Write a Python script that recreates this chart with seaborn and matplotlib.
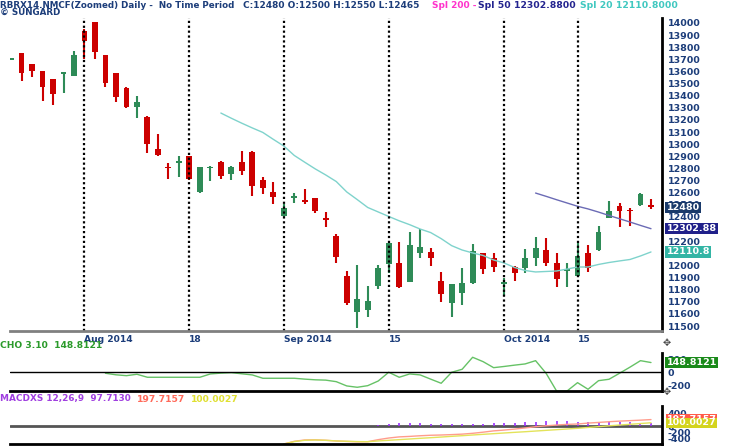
import numpy as np
import pandas as pd
import seaborn as sns
import matplotlib.pyplot as plt

# daily candles, one per trading day (index 0..61)
opens = [13695, 13750, 13662, 13604, 13538, 13578, 13563, 13934, 14005, 13736,
         13585, 13461, 13305, 13227, 12958, 12812, 12848, 12903, 12608, 12800,
         12856, 12754, 12856, 12938, 12705, 12608, 12408, 12555, 12540, 12559,
         12390, 12243, 11913, 11613, 11632, 11833, 12012, 12017, 11866, 12105,
         12108, 11872, 11688, 11775, 11853, 12103, 12059, 11850, 11990, 11981,
         12064, 12127, 12017, 11955, 11913, 12100, 12127, 12394, 12490, 12460,
         12498, 12500]
highs = [13710, 13755, 13665, 13606, 13540, 13598, 13771, 13948, 14008, 13738,
         13588, 13470, 13398, 13230, 13084, 12843, 12903, 12905, 12812, 12820,
         12858, 12820, 12944, 12945, 12727, 12690, 12507, 12600, 12628, 12560,
         12443, 12257, 11954, 12004, 11833, 12004, 12185, 12196, 12278, 12298,
         12141, 11948, 11846, 11981, 12177, 12105, 12100, 11899, 11992, 12133,
         12237, 12224, 12100, 12017, 12188, 12169, 12325, 12532, 12512, 12471,
         12595, 12550]
lows = [13695, 13525, 13552, 13360, 13320, 13420, 13560, 13700, 13700, 13475,
        13351, 13300, 13214, 12930, 12905, 12710, 12732, 12708, 12600, 12700,
        12715, 12705, 12746, 12575, 12589, 12504, 12397, 12517, 12507, 12435,
        12315, 12022, 11673, 11481, 11577, 11803, 11940, 11811, 11861, 12064,
        11998, 11701, 11572, 11674, 11850, 11929, 11948, 11750, 11872, 11935,
        11998, 11998, 11825, 11820, 11902, 11948, 12119, 12389, 12319, 12328,
        12490, 12465]
closes = [13705, 13590, 13604, 13475, 13412, 13590, 13736, 13854, 13758, 13503,
          13392, 13305, 13351, 12999, 12911, 12800, 12860, 12710, 12810, 12815,
          12738, 12810, 12782, 12658, 12636, 12562, 12471, 12570, 12525, 12451,
          12375, 12067, 11688, 11723, 11709, 11981, 12182, 11825, 12169, 12155,
          12059, 11764, 11844, 11853, 12119, 11970, 11990, 11865, 11935, 12059,
          12141, 12017, 11888, 11970, 12078, 11976, 12278, 12449, 12451, 12445,
          12589, 12480]

# Spl 20 from candle 20, Spl 50 from candle 50
sma20_start = 20
sma20 = [13257, 13214, 13173, 13134, 13097, 13040, 12985, 12907, 12851, 12796,
         12746, 12692, 12606, 12543, 12478, 12441, 12404, 12368, 12336, 12300,
         12271, 12221, 12163, 12127, 12103, 12082, 12045, 12020, 11983, 11958,
         11946, 11950, 11954, 11970, 11987, 11987, 12008, 12024, 12037, 12049,
         12078, 12111]
sma50_start = 50
sma50 = [12597, 12570, 12542, 12515, 12488, 12466, 12440, 12412, 12385, 12358,
         12330, 12303]

# CHO 3,10 from candle 9
cho_start = 9
cho = [-12, -35, -48, -27, -72, -72, -72, -72, -72, -72,
       -22, -10, -3, -20, -37, -87, -87, -87, -87, -100,
       -110, -115, -138, -202, -222, -198, -128, 3, -72, -22,
       -37, -100, -162, 3, 48, 228, 162, 72, 90, 110,
       128, 177, -12, -278, -278, -153, -252, -123, -102, -12,
       80, 177, 149]

# MACD 12,26,9 from candle 26
macd_start = 26
macd_line = [-554, -470, -430, -425, -440, -460, -475, -485, -483, -420,
             -370, -335, -320, -300, -285, -277, -265, -250, -225, -190,
             -150, -125, -95, -60, -22, 5, 30, 50, 62, 90,
             110, 132, 150, 165, 180, 198]
macd_signal = [-554, -480, -440, -431, -440, -460, -470, -480, -483, -460,
               -440, -420, -400, -379, -360, -340, -318, -298, -277, -256,
               -236, -215, -195, -176, -155, -134, -113, -92, -71, -45,
               -20, 5, 30, 52, 76, 100]
macd_hist = [0, 10, 10, 6, 0, 0, -5, -5, 0, 40,
             70, 85, 80, 79, 75, 63, 53, 48, 52, 66,
             86, 90, 100, 116, 133, 139, 143, 142, 133, 135,
             130, 127, 120, 113, 104, 98]

tick_idx = [7, 17, 26, 36, 47, 54]
tick_labels = ['Aug 2014', '18', 'Sep 2014', '15', 'Oct 2014', '15']
price_ticks = list(range(11500, 14001, 100))

NAVY = '#1c3d7a'
RED = '#cc0000'
GREEN = '#2e8b57'

sns.set_style('white')
plt.rcParams['font.family'] = ['DejaVu Sans']
plt.rcParams['font.weight'] = 'bold'
plt.rcParams['axes.unicode_minus'] = False

W, H = 739, 447
fig = plt.figure(figsize=(W / 100, H / 100), dpi=100)


def box(x0, y0, x1, y1):
    return [x0 / W, 1 - y1 / H, (x1 - x0) / W, (y1 - y0) / H]


ax = fig.add_axes(box(10, 18, 662, 331))
ax2 = fig.add_axes(box(10, 353, 662, 391))
ax3 = fig.add_axes(box(10, 406, 662, 444))

for a in (ax, ax2, ax3):
    a.set_xlim(-0.1, 62.05)
    a.spines['top'].set_visible(False)
    a.spines['left'].set_visible(False)
    a.spines['right'].set_linewidth(2)
    a.spines['right'].set_color('black')
    a.spines['bottom'].set_linewidth(2)
    a.spines['bottom'].set_color('black')
    a.yaxis.tick_right()
    a.tick_params(axis='y', length=0, pad=4, labelsize=6.8, labelcolor=NAVY)

# price panel
df = pd.DataFrame({'o': opens, 'h': highs, 'l': lows, 'c': closes})
df['x'] = np.arange(len(df))
up = df['c'] >= df['o']
cols = np.where(up, GREEN, RED)
ax.vlines(df['x'], df['l'], df['h'], color=cols, lw=1.5)
body = np.maximum((df['c'] - df['o']).abs(), 15)
ax.bar(df['x'], body, bottom=np.minimum(df['o'], df['c']), width=0.56, color=cols, lw=0)

sns.lineplot(x=np.arange(sma20_start, sma20_start + len(sma20)), y=sma20, ax=ax,
             color='#7fd3cc', lw=1)
sns.lineplot(x=np.arange(sma50_start, sma50_start + len(sma50)), y=sma50, ax=ax,
             color='#6b6bb5', lw=1)

for t in tick_idx:
    ax.axvline(t, color='black', lw=1.6, ls=(0, (1, 1.2)))

ax.set_ylim(11459, 14041)
ax.spines['bottom'].set_color('#808080')
ax.set_yticks(price_ticks)
ax.set_xticks(tick_idx)
ax.set_xticklabels(tick_labels, ha='left')
ax.tick_params(axis='x', length=3, width=2, color='black', pad=0, labelsize=6.6, labelcolor=NAVY)

tags = [(12480, '12480', '#1a3a6a'), (12302.88, '12302.88', '#20208a'), (12110.8, '12110.8', '#33b5a5')]
for val, txt, c in tags:
    ax.text(1.007, val, txt, transform=ax.get_yaxis_transform(), va='center', ha='left',
            color='white', fontsize=6.8, fontweight='bold',
            bbox=dict(boxstyle='square,pad=0.12', fc=c, ec='none'))

# CHO panel
sns.lineplot(x=np.arange(cho_start, cho_start + len(cho)), y=cho, ax=ax2, color='#66c266', lw=1)
ax2.axhline(0, color='black', lw=1)
ax2.set_ylim(-278, 292)
ax2.set_yticks([-200, 0, 200])
ax2.set_xticks([])
ax2.text(1.007, 148.8, '148.8121', transform=ax2.get_yaxis_transform(), va='center', ha='left',
         color='white', fontsize=6.8, fontweight='bold',
         bbox=dict(boxstyle='square,pad=0.12', fc='#1a8a1a', ec='none'))

# MACD panel
mx = np.arange(macd_start, macd_start + len(macd_line))
ax3.axhline(0, color='#555555', lw=2)
ax3.vlines(mx, 0, macd_hist, color='#9b30ff', lw=1.2)
sns.lineplot(x=mx, y=macd_line, ax=ax3, color='#ff9c8c', lw=1)
sns.lineplot(x=mx, y=macd_signal, ax=ax3, color='#e3e35a', lw=1)
ax3.set_ylim(-554, 616)
ax3.set_yticks([400, 200, 0, -200, -400])
ax3.set_xticks([])
ax3.text(1.007, 197.7, '197.7157', transform=ax3.get_yaxis_transform(), va='center', ha='left',
         color='white', fontsize=6.8, fontweight='bold',
         bbox=dict(boxstyle='square,pad=0.08', fc='#ff5a4a', ec='none'))
ax3.text(1.007, 100.0, '100.0027', transform=ax3.get_yaxis_transform(), va='center', ha='left',
         color='white', fontsize=6.8, fontweight='bold',
         bbox=dict(boxstyle='square,pad=0.08', fc='#d4d41e', ec='none'))


def label(x, y, s, c, size=6.3):
    fig.text(x / W, 1 - y / H, s, color=c, fontsize=size, fontweight='bold', va='center', ha='left')


label(0, 5, 'RBRX14.NMCF(Zoomed) Daily -  No Time Period', NAVY)
label(243, 5, 'C:12480 O:12500 H:12550 L:12465', NAVY, 6.5)
label(432, 5, 'Spl 200 -', '#ff33cc', 6.5)
label(478, 5, 'Spl 50 12302.8800', '#23238f', 6.7)
label(580, 5, 'Spl 20 12110.8000', '#40c8c0', 6.7)
label(0, 12, '© SUNGARD', NAVY)
label(0, 346, 'CHO 3.10  148.8121', '#2a9a2a', 6.6)
label(0, 399, 'MACDXS 12,26,9  97.7130', '#a040e0', 6.4)
label(137, 399, '197.7157', '#ff6a5a', 6.6)
label(191, 399, '100.0027', '#e0e030', 6.6)

fig.text(667 / W, 1 - 343 / H, '✥', color='#444444', fontsize=7, va='center', ha='center')
fig.text(667 / W, 1 - 392 / H, '✥', color='#444444', fontsize=7, va='center', ha='center')

fig.savefig('out.png', dpi=100)
